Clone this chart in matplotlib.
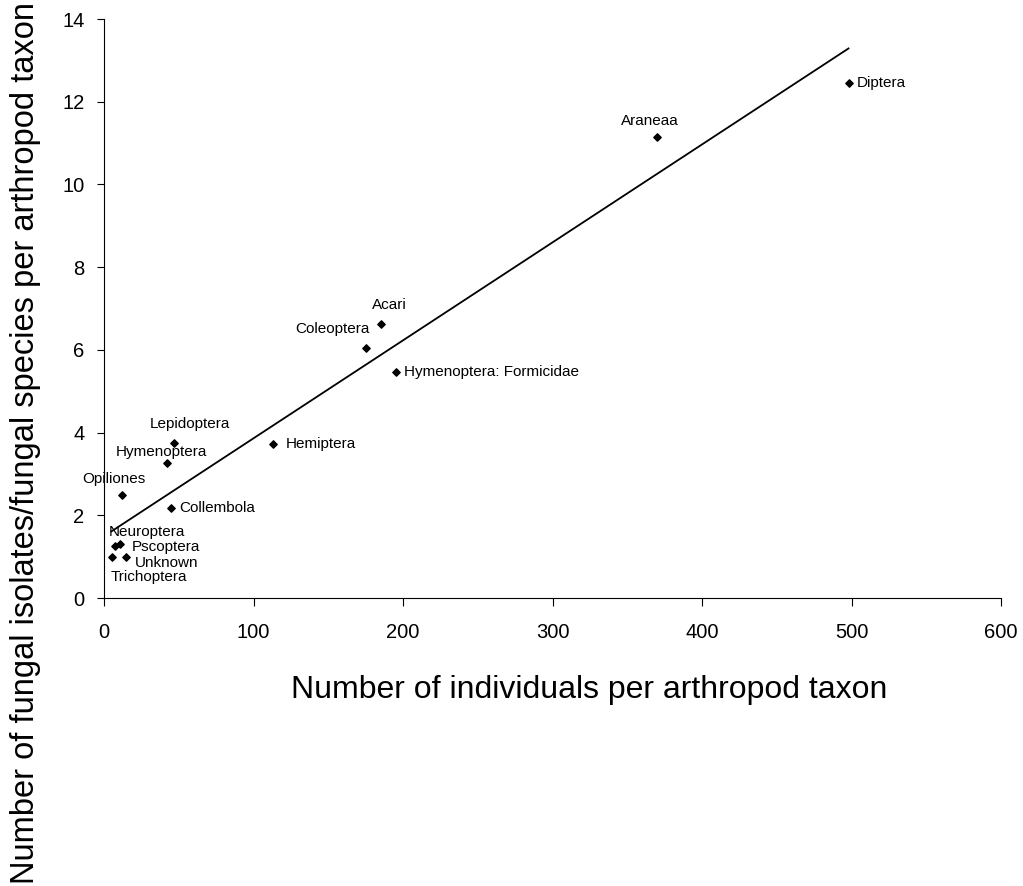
import numpy as np
import matplotlib
matplotlib.use("Agg")
import matplotlib.pyplot as plt

plt.rcParams['font.family'] = ['Liberation Sans', 'DejaVu Sans']

taxa = ["Diptera", "Araneaa", "Acari", "Coleoptera", "Hymenoptera: Formicidae",
        "Hemiptera", "Lepidoptera", "Hymenoptera", "Opiliones", "Collembola",
        "Neuroptera", "Pscoptera", "Trichoptera", "Unknown"]
individuals = [498, 370, 185, 175, 195, 113, 47, 42, 12, 45, 7, 11, 5, 15]
fungal_ratio = [12.45, 11.16, 6.62, 6.04, 5.46, 3.73, 3.75, 3.27, 2.48, 2.17, 1.25, 1.30, 0.99, 0.99]

# label offsets in points (dx, dy, ha)
label_pos = {
    "Diptera": (6, 0, "left"),
    "Araneaa": (-5, 11, "center"),
    "Acari": (6, 14, "center"),
    "Coleoptera": (-24, 14, "center"),
    "Hymenoptera: Formicidae": (6, 0, "left"),
    "Hemiptera": (9, 0, "left"),
    "Lepidoptera": (11, 14, "center"),
    "Hymenoptera": (-4, 8, "center"),
    "Opiliones": (-6, 12, "center"),
    "Collembola": (6, 0, "left"),
    "Neuroptera": (23, 10, "center"),
    "Pscoptera": (8, -2, "left"),
    "Trichoptera": (27, -14, "center"),
    "Unknown": (6, -4, "left"),
}

fig = plt.figure(figsize=(10.23, 8.86), dpi=100)
ax = fig.add_axes([0.1017, 0.325, 0.8768, 0.6535])

x = np.array(individuals, dtype=float)
y = np.array(fungal_ratio, dtype=float)
ax.scatter(x, y, marker='D', s=14, color='black', zorder=3)

slope, intercept = np.polyfit(x, y, 1)
xl = np.array([x.min(), x.max()])
ax.plot(xl, slope * xl + intercept, color='black', lw=1.3)

for t, xi, yi in zip(taxa, x, y):
    dx, dy, ha = label_pos[t]
    ax.annotate(t, (xi, yi), xytext=(dx, dy), textcoords='offset points',
                ha=ha, va='center', fontsize=11)

ax.set_xlim(0, 600)
ax.set_ylim(0, 14)
ax.set_xticks(range(0, 601, 100))
ax.set_yticks(range(0, 15, 2))
ax.spines['top'].set_visible(False)
ax.spines['right'].set_visible(False)
ax.tick_params(axis='x', direction='out', length=6, pad=12, labelsize=14.5)
ax.tick_params(axis='y', direction='out', length=5, pad=9, labelsize=14.5)

fig.text(589 / 1023, 1 - 690 / 886, "Number of individuals per arthropod taxon",
         ha='center', va='center', fontsize=23)
fig.text(0.025, 0.5, "Number of fungal isolates/fungal species per arthropod taxon",
         rotation=90, ha='center', va='center', fontsize=23.5)

fig.savefig("out.png", dpi=100)
